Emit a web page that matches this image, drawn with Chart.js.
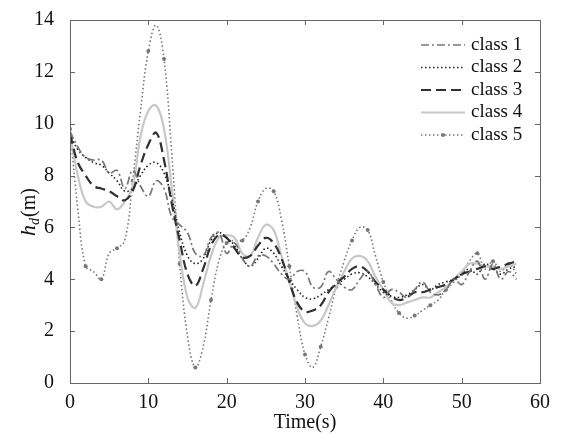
<!DOCTYPE html>
<html>
<head>
<meta charset="utf-8">
<script src="https://cdn.jsdelivr.net/npm/chart.js@4.4.1/dist/chart.umd.min.js"></script>
<style>
    html, body { margin: 0; padding: 0; background: #fff; }
    #wrap { width: 567px; height: 435px; }
</style>
</head>
<body>
<div id="wrap"><canvas id="hdChart" width="567" height="435"></canvas></div>
<script>
// --- Daten ---

const times = [0,1,2,3,4,5,6,7,8,9,10,11,12,13,14,15,16,17,18,19,20,21,22,23,24,25,26,27,28,29,
    30,31,32,33,34,35,36,37,38,39,40,41,42,43,44,45,46,47,48,49,50,51,52,53,54,55,56,57];

const class1 = [9.7,9.1,8.7,8.6,8.6,8.1,8.2,7.5,8.2,7.6,7.2,7.8,7.5,6.4,6.1,5.8,5.0,4.9,5.6,5.8,
    5.0,5.4,4.8,4.5,4.9,4.9,4.6,4.2,4.0,4.3,4.3,3.7,3.7,4.3,4.0,3.7,3.6,4.0,4.3,3.8,
    3.3,3.6,3.5,3.3,3.6,3.9,3.5,3.4,3.6,4.0,3.8,4.3,4.7,4.0,4.6,4.0,4.3,4.0];
const class2 = [9.6,9.0,8.7,8.5,8.4,8.1,7.8,7.4,7.5,8.0,8.4,8.5,8.1,7.1,5.8,4.9,4.6,4.8,5.5,5.8,
    5.6,5.3,4.8,4.5,4.8,5.2,5.0,4.5,4.0,3.6,3.3,3.25,3.4,3.6,3.8,4.0,4.2,4.25,4.1,3.8,
    3.5,3.35,3.3,3.4,3.6,3.8,3.6,3.8,3.9,4.0,4.2,4.4,4.2,4.6,4.4,4.2,4.4,4.5];
const class3 = [9.6,8.5,8.0,7.6,7.5,7.4,7.2,7.05,7.4,8.4,9.2,9.65,8.6,6.9,5.5,4.2,3.75,4.4,5.3,5.7,
    5.6,5.2,4.85,4.9,5.3,5.6,5.4,4.8,3.9,3.1,2.75,2.8,3.0,3.5,3.85,4.1,4.4,4.5,4.3,3.9,
    3.6,3.35,3.2,3.3,3.5,3.5,3.6,3.7,3.8,4.0,4.2,4.3,4.4,4.5,4.4,4.5,4.6,4.7];
const class4 = [9.6,8.0,7.0,6.8,6.8,7.0,6.7,7.0,7.6,9.5,10.5,10.7,9.8,7.5,5.0,3.3,2.9,3.8,4.9,5.6,
    5.7,5.6,5.0,4.9,5.6,6.1,5.9,4.9,3.9,2.9,2.3,2.2,2.4,3.0,3.7,4.3,4.8,4.9,4.7,4.1,
    3.6,3.1,3.0,3.1,3.2,3.3,3.3,3.5,3.7,4.0,4.3,4.6,4.6,4.5,4.5,4.4,4.5,4.6];
const class5 = [9.8,6.7,4.5,4.3,4.0,5.0,5.2,5.5,7.8,10.5,12.8,13.8,12.5,8.8,4.6,1.8,0.6,1.4,3.2,4.7,
    5.4,5.5,5.5,6.0,7.0,7.5,7.4,6.3,4.5,2.6,1.1,0.6,1.4,2.5,3.7,4.7,5.5,6.0,5.9,4.9,
    3.9,3.2,2.7,2.5,2.6,2.8,3.0,3.2,3.6,3.9,4.2,4.7,5.0,4.4,4.7,4.3,4.6,4.2];

const xTicks = [0, 10, 20, 30, 40, 50, 60];
const yTicks = [0, 2, 4, 6, 8, 10, 12, 14];
const labels = ["class 1", "class 2", "class 3", "class 4", "class 5"];

// --- Hilfsfunktionen ---

const FONT = "'Liberation Serif', 'DejaVu Serif', serif";

function toPoints(values) {
    return values.map((v, i) => ({ x: times[i], y: v }));
}

const styles = [
    { color: "#777777", width: 1.7, dash: [8, 3, 2, 3] },
    { color: "#222222", width: 1.6, dash: [1.5, 2.5] },
    { color: "#303030", width: 2.2, dash: [10, 5] },
    { color: "#c8c8c8", width: 2.2, dash: [] },
    { color: "#777777", width: 1.6, dash: [1.5, 2.5] }
];
const seriesValues = [class1, class2, class3, class4, class5];

const datasets = seriesValues.map((vals, i) => ({
    label: labels[i],
    data: toPoints(vals),
    borderColor: styles[i].color,
    borderWidth: styles[i].width,
    borderDash: styles[i].dash,
    backgroundColor: styles[i].color,
    pointRadius: i === 4 ? (ctx => (ctx.dataIndex % 2 === 0 ? 2 : 0)) : 0,
    pointBorderWidth: 0,
    tension: 0.4,
    fill: false
}));

// Rahmen, Ticks nach innen, Legende und y-Titel
const framePlugin = {
    id: "frame",
    afterDraw(chart) {
        const ctx = chart.ctx;
        const a = chart.chartArea;
        const xs = chart.scales.x;
        const ys = chart.scales.y;
        ctx.save();
        ctx.strokeStyle = "#666";
        ctx.lineWidth = 1;
        ctx.setLineDash([]);
        ctx.strokeRect(a.left + 0.5, a.top + 0.5, a.right - a.left, a.bottom - a.top);
        const len = 5;
        ctx.beginPath();
        xTicks.forEach(t => {
            const px = Math.round(xs.getPixelForValue(t)) + 0.5;
            ctx.moveTo(px, a.bottom); ctx.lineTo(px, a.bottom - len);
            ctx.moveTo(px, a.top); ctx.lineTo(px, a.top + len);
        });
        yTicks.forEach(t => {
            const py = Math.round(ys.getPixelForValue(t)) + 0.5;
            ctx.moveTo(a.left, py); ctx.lineTo(a.left + len, py);
            ctx.moveTo(a.right, py); ctx.lineTo(a.right - len, py);
        });
        ctx.stroke();

        // Legende
        let ly = 45;
        datasets.forEach((ds, i) => {
            ctx.strokeStyle = ds.borderColor;
            ctx.lineWidth = ds.borderWidth;
            ctx.setLineDash(ds.borderDash);
            ctx.beginPath();
            ctx.moveTo(421, ly);
            ctx.lineTo(465, ly);
            ctx.stroke();
            if (i === 4) {
                ctx.fillStyle = ds.borderColor;
                ctx.beginPath();
                ctx.arc(443, ly, 2, 0, Math.PI * 2);
                ctx.fill();
            }
            ctx.setLineDash([]);
            ctx.fillStyle = "#111";
            ctx.font = "19px " + FONT;
            ctx.textBaseline = "middle";
            ctx.textAlign = "left";
            ctx.fillText(ds.label, 471, ly);
            ly += 22.5;
        });

        // y-Achsentitel h_d(m)
        ctx.save();
        ctx.translate(27, 212);
        ctx.rotate(-Math.PI / 2);
        ctx.fillStyle = "#111";
        ctx.textBaseline = "alphabetic";
        ctx.textAlign = "left";
        ctx.font = "italic 22px " + FONT;
        const w1 = ctx.measureText("h").width;
        ctx.font = "20px " + FONT;
        const w3 = ctx.measureText("(m)").width;
        const total = w1 + 8 + w3;
        const x0 = -total / 2;
        ctx.font = "italic 22px " + FONT;
        ctx.fillText("h", x0, 8);
        ctx.font = "italic 14px " + FONT;
        ctx.fillText("d", x0 + w1, 12);
        ctx.font = "20px " + FONT;
        ctx.fillText("(m)", x0 + w1 + 8, 8);
        ctx.restore();
        ctx.restore();
    }
};

document.addEventListener("DOMContentLoaded", function() {
    const ctx = document.getElementById("hdChart").getContext("2d");
    new Chart(ctx, {
        type: "line",
        data: { datasets: datasets },
        options: {
            responsive: false,
            animation: false,
            layout: { padding: { top: 16, right: 27, left: 0, bottom: 0 } },
            plugins: {
                legend: { display: false },
                tooltip: { enabled: false }
            },
            scales: {
                x: {
                    type: "linear",
                    min: 0,
                    max: 60,
                    afterBuildTicks: axis => { axis.ticks = xTicks.map(v => ({ value: v })); },
                    afterFit: axis => { axis.height = 52; },
                    grid: { display: false },
                    border: { display: false },
                    ticks: { color: "#111", font: { family: FONT, size: 20 }, padding: 0, maxRotation: 0 },
                    title: { display: true, text: "Time(s)", color: "#111", font: { family: FONT, size: 20 }, padding: 0 }
                },
                y: {
                    min: 0,
                    max: 14,
                    afterBuildTicks: axis => { axis.ticks = yTicks.map(v => ({ value: v })); },
                    afterFit: axis => { axis.width = 70; },
                    grid: { display: false },
                    border: { display: false },
                    ticks: { color: "#111", font: { family: FONT, size: 20 }, padding: 8 }
                }
            }
        },
        plugins: [framePlugin]
    });
});
</script>
</body>
</html>
